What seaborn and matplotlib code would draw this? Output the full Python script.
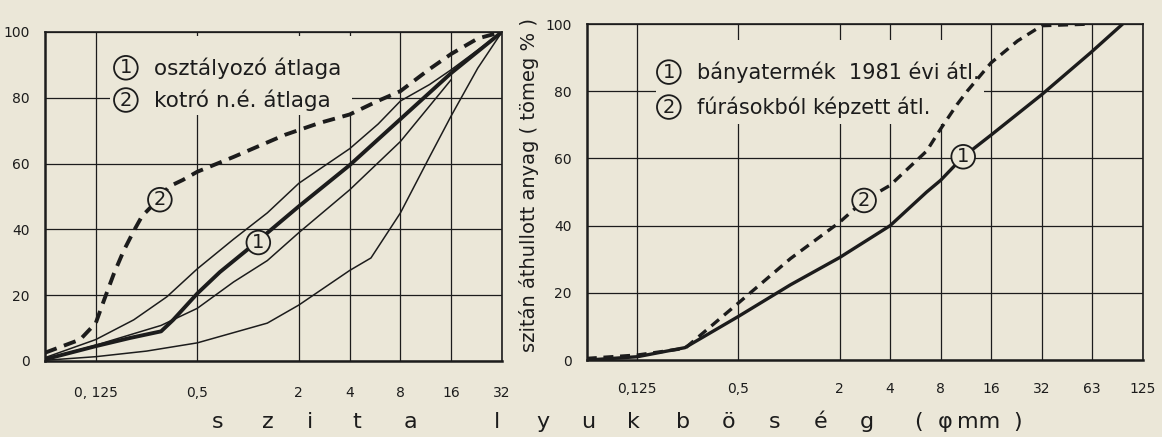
import pandas as pd
import matplotlib
matplotlib.use("Agg")
import matplotlib.pyplot as plt
import seaborn as sns
from matplotlib.patches import Rectangle

# ---- left panel: osztályozó / kotró
osztalyozo_x = [0.0625, 0.125, 0.2, 0.305, 0.36, 0.5, 0.68, 1.0, 2, 4, 8, 16, 32]
osztalyozo_y = [0.5, 4.5, 7, 9, 12.5, 20.5, 27, 34, 47, 59.5, 73.5, 87.5, 100]

felso_x = [0.0625, 0.125, 0.21, 0.33, 0.5, 0.82, 1.3, 2, 4, 5.9, 8, 11.9, 16, 23, 32]
felso_y = [1, 6.5, 12.5, 19.5, 28, 37, 45, 54, 64.5, 72, 79, 84, 88.5, 94.5, 100]

also_x = [0.0625, 0.125, 0.305, 0.5, 0.82, 1.3, 2, 4, 8, 16]
also_y = [0.5, 4.8, 10.8, 16, 24, 30.5, 39, 52, 66.7, 85.5]

legalso_x = [0.0625, 0.125, 0.25, 0.5, 1.3, 2, 4, 5.35, 8, 11.9, 16, 23, 32]
legalso_y = [0.2, 1.3, 3, 5.5, 11.5, 17, 27.5, 31.3, 45, 62, 74.5, 89, 100]

kotro_x = [0.0625, 0.101, 0.125, 0.14, 0.16, 0.183, 0.21, 0.235, 0.28, 0.34,
           0.41, 0.5, 0.82, 1.65, 2.64, 4, 5.87, 8, 11.9, 16, 23, 32]
kotro_y = [2.5, 6.5, 11.5, 18.5, 26.5, 33.5, 39.5, 44, 48, 53,
           55, 57.5, 62, 68.7, 72.3, 74.9, 79, 82, 88.7, 93.3, 98, 100]

# ---- right panel: bányatermék / fúrások
banya_x = [0.0625, 0.125, 0.24, 0.5, 1.02, 2, 4, 6.6, 8, 10.9, 16, 32, 63, 97]
banya_y = [0, 1, 3.7, 13, 22.4, 30.5, 40, 50, 53.5, 60.5, 67, 79, 91.6, 100]

furas_x = [0.0625, 0.125, 0.24, 0.5, 1.02, 2, 2.8, 4, 6.6, 8, 10, 11.5, 16, 23, 32, 63]
furas_y = [0.5, 1.5, 3.5, 17, 30.2, 41, 47.5, 52, 62.2, 68.8, 76, 80, 88.5, 95, 99.5, 100]

left_ticks = [0.125, 0.5, 2, 4, 8, 16, 32]
left_labels = ["0, 125", "0,5", "2", "4", "8", "16", "32"]
right_ticks = [0.125, 0.5, 2, 4, 8, 16, 32, 64, 128]
right_labels = ["0,125", "0,5", "2", "4", "8", "16", "32", "63", "125"]
y_ticks = [0, 20, 40, 60, 80, 100]

BG = "#ebe7d8"
INK = "#1c1c1c"

sns.set_style("white")
plt.rcParams['font.family'] = ['DejaVu Sans']

fig = plt.figure(figsize=(11.62, 4.37), dpi=100, facecolor=BG)
ax1 = fig.add_axes([0.0387, 0.174, 0.3933, 0.753])
ax2 = fig.add_axes([0.505, 0.176, 0.4785, 0.769])


def setup(ax, xmax, ticks, labels, xpad):
    ax.set_facecolor(BG)
    ax.set_xscale('log', base=2)
    ax.set_xlim(0.0625, xmax)
    ax.set_ylim(0, 100)
    ax.minorticks_off()
    ax.set_xticks(ticks)
    ax.set_xticklabels(labels)
    ax.set_yticks(y_ticks)
    ax.set_axisbelow(True)
    ax.grid(True, color=INK, lw=0.9)
    for side, sp in ax.spines.items():
        sp.set_visible(True)
        sp.set_color(INK)
        sp.set_linewidth(1.8 if side in ('left', 'bottom') else 1.2)
    ax.tick_params(axis='x', direction='out', length=5, width=1, colors=INK,
                   labelsize=10, pad=xpad)
    ax.tick_params(axis='y', direction='out', length=3, width=1, colors=INK,
                   labelsize=10, pad=8)
    ax.set_xlabel("")
    ax.set_ylabel("")


def circled(ax, x, y, s, transform=None):
    kw = {}
    if transform is not None:
        kw['transform'] = transform
    ax.text(x, y, s, ha='center', va='center', fontsize=14, color=INK, zorder=5,
            bbox=dict(boxstyle='circle,pad=0.12', fc=BG, ec=INK, lw=1.3), **kw)


# left panel curves
sns.lineplot(x=legalso_x, y=legalso_y, ax=ax1, color=INK, lw=1.1)
sns.lineplot(x=also_x, y=also_y, ax=ax1, color=INK, lw=1.1)
sns.lineplot(x=felso_x, y=felso_y, ax=ax1, color=INK, lw=1.1)
sns.lineplot(x=osztalyozo_x, y=osztalyozo_y, ax=ax1, color=INK, lw=2.8)
sns.lineplot(x=kotro_x, y=kotro_y, ax=ax1, color=INK, lw=2.8,
             linestyle=(0, (3.2, 2.0)))
setup(ax1, 32, left_ticks, left_labels, 13)

# right panel curves
sns.lineplot(x=banya_x, y=banya_y, ax=ax2, color=INK, lw=2.4)
sns.lineplot(x=furas_x, y=furas_y, ax=ax2, color=INK, lw=2.4,
             linestyle=(0, (3.0, 2.0)))
setup(ax2, 128, right_ticks, right_labels, 11)

# legend areas (gridlines are blanked there)
ax1.add_patch(Rectangle((0.142, 0.748), 0.53, 0.24, transform=ax1.transAxes,
                        fc=BG, ec='none', zorder=1))
ax2.add_patch(Rectangle((0.124, 0.702), 0.59, 0.25, transform=ax2.transAxes,
                        fc=BG, ec='none', zorder=1))

circled(ax1, 0.177, 0.891, "1", ax1.transAxes)
circled(ax1, 0.177, 0.793, "2", ax1.transAxes)
ax1.text(0.2385, 0.891, "osztályozó átlaga", transform=ax1.transAxes,
         ha='left', va='center', fontsize=15.5, color=INK, zorder=5)
ax1.text(0.2385, 0.793, "kotró n.é. átlaga", transform=ax1.transAxes,
         ha='left', va='center', fontsize=15.5, color=INK, zorder=5)

circled(ax2, 0.1475, 0.857, "1", ax2.transAxes)
circled(ax2, 0.1475, 0.753, "2", ax2.transAxes)
ax2.text(0.198, 0.857, "bányatermék  1981 évi átl.", transform=ax2.transAxes,
         ha='left', va='center', fontsize=15, color=INK, zorder=5)
ax2.text(0.198, 0.753, "fúrásokból képzett átl.", transform=ax2.transAxes,
         ha='left', va='center', fontsize=15, color=INK, zorder=5)

# circled curve numbers
circled(ax1, 1.15, 36, "1")
circled(ax1, 0.3, 49, "2")
circled(ax2, 10.9, 60.5, "1")
circled(ax2, 2.8, 47.5, "2")

fig.text(0.455, 0.577, "szitán áthullott anyag ( tömeg % )", rotation=90,
         ha='center', va='center', fontsize=14, color=INK)

# spaced-out common x label
chars = ["s", "z", "i", "t", "a", "l", "y", "u", "k", "b", "ö", "s", "é", "g",
         "(", "φ", "mm", ")"]
char_px = [218, 268, 310, 357, 410, 497, 543, 588, 633, 683, 729, 775, 821, 867,
           918, 945, 979, 1018]
for c, px in zip(chars, char_px):
    fig.text(px / 1162, 0.02, c, ha='center', va='baseline', fontsize=16,
             color=INK)

fig.savefig("out.png", dpi=100, facecolor=BG)
